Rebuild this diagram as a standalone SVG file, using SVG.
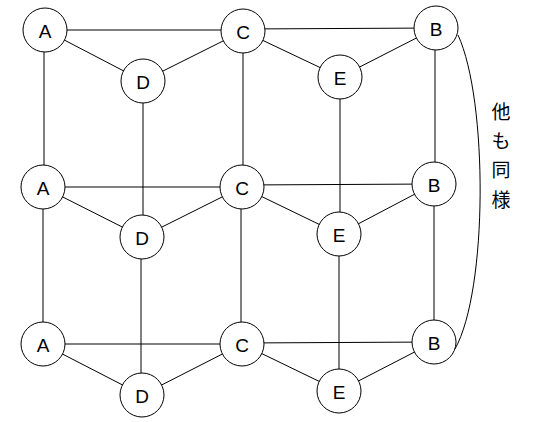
<svg xmlns="http://www.w3.org/2000/svg" width="557" height="422" viewBox="0 0 557 422">
<style>
.bg{fill:#ffffff}
.edge{stroke:#000;stroke-width:1;fill:none}
.node circle{fill:#fff;stroke:#000;stroke-width:1}
.node text{font-family:"Liberation Sans",Arial,sans-serif;font-size:19px;text-anchor:middle;fill:#000}
.note{font-family:"Noto Sans CJK JP",sans-serif;font-size:19px;text-anchor:middle;fill:#000}
</style>
<rect class="bg" x="0" y="0" width="557" height="422"/>
<g id="connectors" class="edge">
<!-- row 1 -->
<line x1="45" y1="30" x2="243" y2="30"/>
<line x1="243" y1="29" x2="436" y2="28"/>
<line x1="45" y1="30" x2="143" y2="81"/>
<line x1="143" y1="81" x2="243" y2="31"/>
<line x1="243" y1="31" x2="340" y2="77"/>
<line x1="340" y1="77" x2="436" y2="28"/>
<!-- verticals 1-2 -->
<line x1="44" y1="30" x2="44" y2="187"/>
<line x1="143" y1="81" x2="143" y2="237"/>
<line x1="243" y1="31" x2="243" y2="187"/>
<line x1="340" y1="77" x2="340" y2="234"/>
<line x1="435" y1="28" x2="435" y2="184"/>
<!-- row 2 -->
<line x1="43" y1="187" x2="242" y2="187"/>
<line x1="242" y1="185" x2="434" y2="184"/>
<line x1="43" y1="187" x2="142" y2="237"/>
<line x1="142" y1="237" x2="242" y2="187"/>
<line x1="242" y1="187" x2="339" y2="234"/>
<line x1="339" y1="234" x2="434" y2="184"/>
<!-- verticals 2-3 -->
<line x1="43" y1="187" x2="43" y2="344"/>
<line x1="141" y1="237" x2="141" y2="395"/>
<line x1="241" y1="187" x2="241" y2="344"/>
<line x1="339" y1="234" x2="339" y2="391"/>
<line x1="434" y1="184" x2="434" y2="342"/>
<!-- row 3 -->
<line x1="43" y1="344" x2="242" y2="344"/>
<line x1="242" y1="343" x2="434" y2="342"/>
<line x1="43" y1="344" x2="142" y2="395"/>
<line x1="142" y1="395" x2="242" y2="344"/>
<line x1="242" y1="344" x2="339" y2="391"/>
<line x1="339" y1="391" x2="434" y2="342"/>
<!-- side brace -->
<path d="M458,35 C488,100 488,290 455,349"/>
</g>
<g id="A1" class="node"><circle cx="45" cy="30" r="22"/><text x="45" y="38">A</text></g>
<g id="D1" class="node"><circle cx="143" cy="81" r="22"/><text x="143" y="89">D</text></g>
<g id="C1" class="node"><circle cx="243" cy="31" r="22"/><text x="243" y="39">C</text></g>
<g id="E1" class="node"><circle cx="340" cy="77" r="22"/><text x="340" y="85">E</text></g>
<g id="B1" class="node"><circle cx="436" cy="28" r="22"/><text x="436" y="36">B</text></g>
<g id="A2" class="node"><circle cx="43" cy="187" r="22"/><text x="43" y="195">A</text></g>
<g id="D2" class="node"><circle cx="142" cy="237" r="22"/><text x="142" y="245">D</text></g>
<g id="C2" class="node"><circle cx="242" cy="187" r="22"/><text x="242" y="195">C</text></g>
<g id="E2" class="node"><circle cx="339" cy="234" r="22"/><text x="339" y="242">E</text></g>
<g id="B2" class="node"><circle cx="434" cy="184" r="22"/><text x="434" y="192">B</text></g>
<g id="A3" class="node"><circle cx="43" cy="344" r="22"/><text x="43" y="352">A</text></g>
<g id="D3" class="node"><circle cx="142" cy="395" r="22"/><text x="142" y="403">D</text></g>
<g id="C3" class="node"><circle cx="242" cy="344" r="22"/><text x="242" y="352">C</text></g>
<g id="E3" class="node"><circle cx="339" cy="391" r="22"/><text x="339" y="399">E</text></g>
<g id="B3" class="node"><circle cx="434" cy="342" r="22"/><text x="434" y="350">B</text></g>
<g id="note">
<text class="note" x="501" y="119">他</text>
<text class="note" x="501" y="148">も</text>
<text class="note" x="501" y="177">同</text>
<text class="note" x="501" y="207">様</text>
</g>
</svg>
